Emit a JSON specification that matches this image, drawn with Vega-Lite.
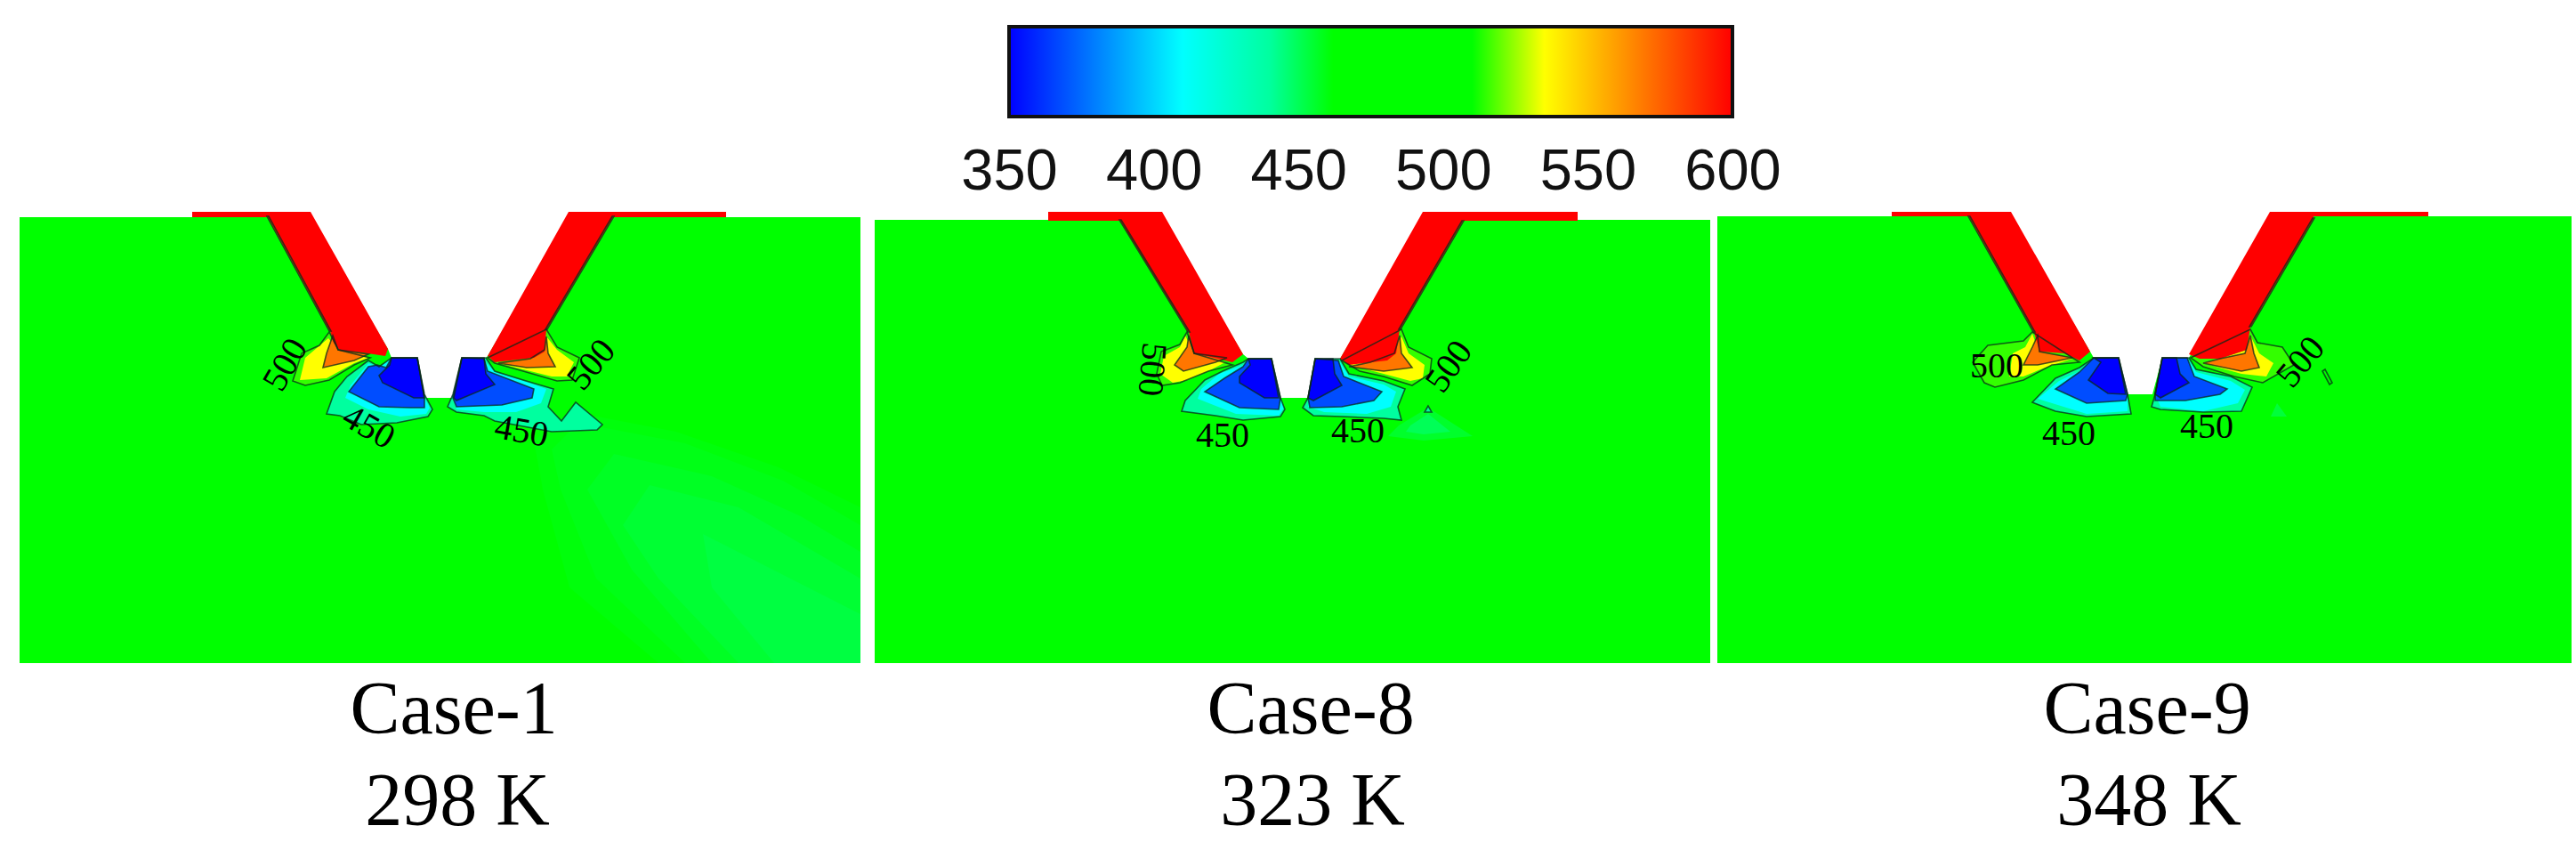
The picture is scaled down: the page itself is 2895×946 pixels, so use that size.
{"$schema":"https://vega.github.io/schema/vega-lite/v6.json","width":2895,"height":946,"padding":0,"autosize":{"type":"none"},"background":"white","config":{"view":{"stroke":null}},
"datasets":{"polys":[
{"id":"a1","t":500,"c":0,"x":[22,349,436,440,469,477,509,519,546,548,639,967,967,22],"y":[244,244,392,402,402,447,447,402,402,400,244,244,745,745]},
{"id":"a2a","t":460.5,"c":0,"x":[640,760,875,967,967,740,640,610,600],"y":[462,485,525,570,745,745,660,550,495]},
{"id":"a2","t":459,"c":0,"x":[650,770,880,967,967,770,670,630,620],"y":[475,498,540,590,745,745,650,550,505]},
{"id":"a3","t":457,"c":0,"x":[690,800,900,967,967,800,710,660],"y":[510,535,580,620,745,745,640,550]},
{"id":"a3b","t":455,"c":0,"x":[730,830,967,967,830,740,700],"y":[545,570,650,745,745,650,590]},
{"id":"a4","t":453,"c":0,"x":[790,967,967,870,800],"y":[600,690,745,745,660]},
{"id":"a5","t":600,"c":0,"x":[216,301,301,216],"y":[238,238,244,244]},
{"id":"a6","t":600,"c":0,"x":[689,816,816,689],"y":[238,238,244,244]},
{"id":"a7","t":570,"c":1,"x":[300,302,372,370],"y":[243,243,372,372]},
{"id":"a8","t":515,"c":1,"x":[370,359,339,329,343,370,398,416,380],"y":[373,388,397,428,433,427,410,402,393]},
{"id":"a9","t":535,"c":0,"x":[369,343,337,367,398,414,382],"y":[380,402,427,425,408,402,395]},
{"id":"a10","t":570,"c":1,"x":[374,380,414,398,363,367],"y":[377,393,398,405,413,397]},
{"id":"a11","t":440,"c":1,"x":[414,390,376,367,382,406,446,481,486,477,469,440,426],"y":[405,423,440,465,467,477,475,468,460,443,402,402,412]},
{"id":"a12","t":410,"c":0,"x":[414,394,388,414,450,479,483,477,469,440,426],"y":[408,433,447,460,468,465,458,447,402,402,413]},
{"id":"a13","t":368,"c":1,"x":[414,392,426,461,477,477,469,440,434,424],"y":[412,440,457,458,458,447,402,402,413,410]},
{"id":"a14","t":350,"c":1,"x":[440,469,477,465,430,426,438],"y":[402,402,447,447,430,422,410]},
{"id":"a15","t":600,"c":0,"x":[301,349,436,433,420,405,382,375,371,301],"y":[238,238,392,400,398,396,394,385,372,243]},
{"id":"a16","t":570,"c":1,"x":[688,690,615,613],"y":[243,243,370,370]},
{"id":"a17","t":515,"c":1,"x":[614,626,651,643,626,588,556,548],"y":[370,390,402,427,428,417,408,402]},
{"id":"a18","t":535,"c":0,"x":[614,626,645,637,620,588,560,596,614],"y":[378,393,407,423,423,415,408,405,397]},
{"id":"a19","t":570,"c":1,"x":[614,616,624,592,560,596,612],"y":[378,397,412,413,408,403,393]},
{"id":"a20","t":440,"c":1,"x":[546,556,588,622,616,631,647,677,671,620,556,544,513,503,509,519],"y":[402,417,427,437,457,473,452,477,483,485,473,467,463,457,443,402]},
{"id":"a21","t":410,"c":0,"x":[546,556,588,614,608,580,544,513,509,519],"y":[407,418,428,437,453,463,463,460,447,402]},
{"id":"a22","t":368,"c":1,"x":[544,548,600,598,564,513,509,519],"y":[403,417,437,447,455,457,447,402]},
{"id":"a23","t":350,"c":1,"x":[519,544,546,556,513,510],"y":[402,402,420,432,450,447]},
{"id":"a24","t":600,"c":0,"x":[639,689,689,614,612,600,556,548],"y":[238,238,243,370,395,402,407,400]},
{"id":"b1","t":500,"c":0,"x":[983,1306,1397,1403,1429,1439,1470,1478,1506,1599,1922,1922,983],"y":[247,247,398,403,403,447,447,403,403,247,247,745,745]},
{"id":"b2","t":600,"c":0,"x":[1178,1259,1259,1178],"y":[238,238,248,248]},
{"id":"b3","t":600,"c":0,"x":[1644,1773,1773,1644],"y":[238,238,248,248]},
{"id":"b4","t":570,"c":1,"x":[1258,1260,1337,1335],"y":[247,247,373,373]},
{"id":"b5","t":515,"c":1,"x":[1334,1326,1305,1300,1306,1326,1358,1385,1342],"y":[373,387,395,420,433,430,417,410,397]},
{"id":"b6","t":535,"c":0,"x":[1332,1326,1308,1304,1318,1334,1358,1377,1342],"y":[377,390,400,420,430,427,417,407,397]},
{"id":"b7","t":570,"c":1,"x":[1336,1334,1320,1330,1366,1379,1342],"y":[377,390,410,417,407,402,397]},
{"id":"b8","t":440,"c":1,"x":[1397,1374,1354,1332,1328,1366,1397,1439,1444,1439,1429,1403],"y":[407,417,427,450,462,467,472,468,460,447,403,403]},
{"id":"b9","t":410,"c":0,"x":[1397,1370,1350,1346,1389,1437,1443,1439,1429,1403],"y":[410,420,437,448,465,467,458,447,403,403]},
{"id":"b10","t":368,"c":1,"x":[1397,1376,1354,1393,1437,1439,1429,1403],"y":[412,425,440,458,460,447,403,403]},
{"id":"b11","t":350,"c":1,"x":[1403,1429,1437,1421,1393,1393,1405],"y":[403,403,447,447,430,423,410]},
{"id":"b12","t":600,"c":0,"x":[1259,1306,1397,1385,1365,1342,1336,1259],"y":[238,238,398,407,402,397,373,248]},
{"id":"b13a","t":456,"c":0,"x":[1572,1605,1655,1600,1560],"y":[478,458,490,495,490]},
{"id":"b13","t":450,"c":0,"x":[1585,1605,1630,1600,1580],"y":[478,465,485,488,485]},
{"id":"b14","t":440,"c":1,"x":[1605,1601,1609],"y":[456,463,463]},
{"id":"b15","t":570,"c":1,"x":[1643,1645,1574,1572],"y":[248,248,370,370]},
{"id":"b16","t":515,"c":1,"x":[1575,1583,1609,1607,1587,1555,1528,1508],"y":[370,390,403,420,433,423,417,405]},
{"id":"b17","t":535,"c":0,"x":[1575,1583,1601,1599,1585,1555,1516,1540,1567],"y":[378,397,410,425,428,420,410,405,397]},
{"id":"b18","t":570,"c":1,"x":[1573,1575,1587,1555,1516,1540,1567],"y":[377,397,413,417,412,407,397]},
{"id":"b19","t":440,"c":1,"x":[1506,1516,1555,1579,1571,1575,1555,1508,1476,1464,1470,1478],"y":[403,420,428,437,457,472,470,468,467,458,447,403]},
{"id":"b20","t":410,"c":0,"x":[1506,1516,1555,1569,1563,1536,1488,1470,1470,1478],"y":[407,423,432,440,457,465,463,457,447,403]},
{"id":"b21","t":368,"c":1,"x":[1504,1510,1553,1544,1508,1472,1470,1478],"y":[405,423,440,450,457,458,447,403]},
{"id":"b22","t":350,"c":1,"x":[1478,1498,1500,1508,1476,1470],"y":[403,403,420,433,450,447]},
{"id":"b23","t":600,"c":0,"x":[1599,1644,1644,1573,1569,1559,1516,1506],"y":[238,238,248,370,397,405,410,403]},
{"id":"c1","t":500,"c":0,"x":[1930,2260,2349,2353,2381,2391,2419,2430,2460,2551,2890,2890,1930],"y":[243,243,395,402,402,443,443,402,402,243,243,745,745]},
{"id":"c2","t":600,"c":0,"x":[2126,2213,2213,2126],"y":[238,238,243,243]},
{"id":"c3","t":600,"c":0,"x":[2600,2729,2729,2600],"y":[238,238,243,243]},
{"id":"c4","t":570,"c":1,"x":[2212,2214,2287,2285],"y":[243,243,373,373]},
{"id":"c5","t":515,"c":1,"x":[2284,2274,2234,2217,2230,2242,2274,2306,2337],"y":[373,383,388,407,430,435,427,410,407]},
{"id":"c6","t":535,"c":0,"x":[2284,2276,2262,2258,2274,2298,2329,2292],"y":[375,390,397,423,423,413,403,397]},
{"id":"c7","t":570,"c":1,"x":[2290,2284,2274,2290,2329,2292],"y":[377,390,410,410,402,395]},
{"id":"c8","t":440,"c":1,"x":[2337,2310,2284,2310,2345,2395,2391,2381,2353],"y":[413,425,452,462,468,465,443,402,402]},
{"id":"c9","t":410,"c":0,"x":[2337,2314,2290,2345,2391,2391,2381,2353],"y":[417,428,448,465,462,443,402,402]},
{"id":"c10","t":368,"c":1,"x":[2337,2310,2345,2389,2391,2381,2353],"y":[418,437,453,450,443,402,402]},
{"id":"c11","t":350,"c":1,"x":[2353,2381,2389,2369,2347,2361],"y":[402,402,443,442,427,407]},
{"id":"c12","t":600,"c":0,"x":[2213,2260,2349,2337,2320,2292,2286,2213],"y":[238,238,395,405,397,395,373,243]},
{"id":"c13","t":454,"c":0,"x":[2552,2559,2570],"y":[468,453,468]},
{"id":"c14","t":500,"c":1,"x":[2610,2613,2621,2618],"y":[417,415,430,432]},
{"id":"c15","t":570,"c":1,"x":[2599,2601,2530,2528],"y":[245,245,367,367]},
{"id":"c16","t":515,"c":1,"x":[2529,2537,2565,2578,2543,2511,2476,2462],"y":[370,385,390,410,430,423,412,402]},
{"id":"c17","t":535,"c":0,"x":[2529,2539,2555,2547,2519,2476,2495,2525],"y":[377,397,408,423,420,408,403,393]},
{"id":"c18","t":570,"c":1,"x":[2529,2533,2539,2519,2476,2495,2523],"y":[377,397,413,417,408,403,397]},
{"id":"c19","t":440,"c":1,"x":[2460,2468,2507,2531,2519,2476,2428,2418,2422,2430],"y":[402,415,423,435,462,463,460,457,443,402]},
{"id":"c20","t":410,"c":0,"x":[2460,2468,2507,2523,2515,2476,2428,2422,2430],"y":[405,418,428,438,453,462,457,443,402]},
{"id":"c21","t":368,"c":1,"x":[2458,2466,2503,2495,2456,2422,2422,2430],"y":[402,423,437,443,450,450,443,402]},
{"id":"c22","t":350,"c":1,"x":[2430,2446,2450,2460,2428,2422],"y":[402,402,420,430,447,443]},
{"id":"c23","t":600,"c":0,"x":[2551,2600,2600,2529,2525,2495,2472,2460],"y":[238,238,245,367,393,403,403,398]}
]},
"resolve":{"scale":{"x":"independent"}},
"layer":[
{"data":{"name":"polys"},"transform":[{"flatten":["x","y"]}],
"mark":{"type":"line","interpolate":"linear-closed","filled":true,"strokeWidth":0,"clip":true},
"encoding":{"x":{"field":"x","type":"quantitative","scale":{"domain":[0,2895],"nice":false,"zero":false},"axis":null},
"y":{"field":"y","type":"quantitative","scale":{"domain":[0,946],"reverse":true,"nice":false,"zero":false},"axis":null},
"detail":{"field":"id"},"order":{"value":null},
"fill":{"field":"t","type":"quantitative","legend":null,"scale":{"domain":[350,410,440,462,510,535,600],"range":["#0000ff","#00ffff","#00ff9f","#00ff00","#00ff00","#ffff00","#ff0000"],"interpolate":"rgb"}}}},
{"data":{"name":"polys"},"transform":[{"filter":"datum.c==1"},{"flatten":["x","y"]}],
"mark":{"type":"line","interpolate":"linear-closed","stroke":"#0a2a1a","strokeWidth":1.6,"strokeOpacity":0.75},
"encoding":{"x":{"field":"x","type":"quantitative","scale":{"domain":[0,2895],"nice":false,"zero":false},"axis":null},
"y":{"field":"y","type":"quantitative","scale":{"domain":[0,946],"reverse":true,"nice":false,"zero":false},"axis":null},
"detail":{"field":"id"},"order":{"value":null}}},
{"data":{"values":[{"from":350,"to":600}]},
"mark":{"type":"rect","stroke":"#111111","strokeWidth":4,"fill":{"gradient":"linear","x1":0,"x2":1,"y1":0,"y2":0,"stops":[{"offset":0,"color":"#0000ff"},{"offset":0.24,"color":"#00ffff"},{"offset":0.36,"color":"#00ff9f"},{"offset":0.448,"color":"#00ff00"},{"offset":0.64,"color":"#00ff00"},{"offset":0.74,"color":"#ffff00"},{"offset":1,"color":"#ff0000"}]}},
"encoding":{"x":{"field":"from","type":"quantitative","scale":{"domain":[350,600],"range":[1134,1947],"nice":false,"zero":false},
"axis":{"orient":"bottom","offset":-813,"values":[350,400,450,500,550,600],"domain":false,"ticks":false,"grid":false,"title":null,"labelFont":"Liberation Sans","labelFontSize":65,"labelColor":"#111111","labelPadding":28,"labelOverlap":false,"labelBound":false,"labelFlush":false,"format":"d"}},
"x2":{"field":"to"},
"y":{"datum":30,"type":"quantitative","scale":{"domain":[0,946],"reverse":true,"nice":false,"zero":false},"axis":null},
"y2":{"datum":131}}},
{"data":{"values":[
{"x":321,"y":410,"a":-60,"s":"500"},{"x":414,"y":480,"a":30,"s":"450"},{"x":586,"y":485,"a":10,"s":"450"},{"x":665,"y":410,"a":-50,"s":"500"},
{"x":1294,"y":415,"a":95,"s":"500"},{"x":1374,"y":490,"a":0,"s":"450"},{"x":1526,"y":485,"a":0,"s":"450"},{"x":1629,"y":412,"a":-55,"s":"500"},
{"x":2244,"y":412,"a":0,"s":"500"},{"x":2325,"y":488,"a":0,"s":"450"},{"x":2480,"y":480,"a":0,"s":"450"},{"x":2586,"y":407,"a":-50,"s":"500"}]},
"mark":{"type":"text","font":"Liberation Serif","fontSize":40,"color":"#000000","baseline":"middle","align":"center"},
"encoding":{"x":{"field":"x","type":"quantitative","scale":{"domain":[0,2895],"nice":false,"zero":false},"axis":null},
"y":{"field":"y","type":"quantitative","scale":{"domain":[0,946],"reverse":true,"nice":false,"zero":false},"axis":null},
"text":{"field":"s"},"angle":{"field":"a","type":"quantitative","scale":null}}},
{"data":{"values":[
{"x":510,"y":824,"s":"Case-1"},{"x":1473,"y":824,"s":"Case-8"},{"x":2413,"y":824,"s":"Case-9"},
{"x":514,"y":927,"s":"298 K"},{"x":1475,"y":927,"s":"323 K"},{"x":2415,"y":927,"s":"348 K"}]},
"mark":{"type":"text","font":"Liberation Serif","fontSize":84,"color":"#000000","baseline":"alphabetic","align":"center"},
"encoding":{"x":{"field":"x","type":"quantitative","scale":{"domain":[0,2895],"nice":false,"zero":false},"axis":null},
"y":{"field":"y","type":"quantitative","scale":{"domain":[0,946],"reverse":true,"nice":false,"zero":false},"axis":null},
"text":{"field":"s"}}}
]}
